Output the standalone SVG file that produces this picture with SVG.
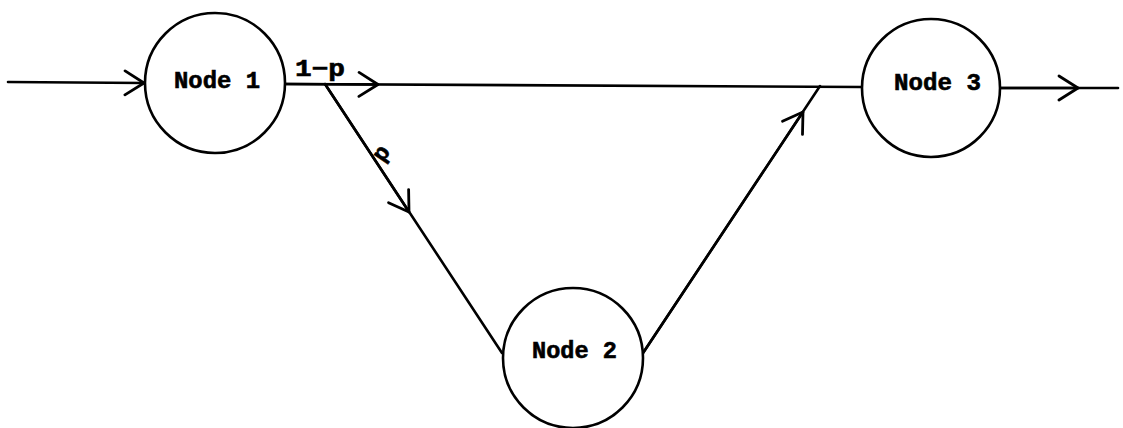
<svg xmlns="http://www.w3.org/2000/svg" width="1123" height="428" viewBox="0 0 1123 428">
  <style>
    .edge { fill: none; stroke: #000; stroke-width: 2.6; stroke-linecap: round; stroke-linejoin: round; }
    .node circle { fill: #fff; stroke: #000; stroke-width: 2.6; }
    .label { font-family: "Liberation Mono", "DejaVu Sans Mono", monospace; font-weight: bold; font-size: 23px; fill: #000; stroke: #000; stroke-width: 0.6; }
  </style>
  <defs>
    <marker id="chev" viewBox="0 0 22 30" refX="21" refY="15" markerWidth="22" markerHeight="30" markerUnits="userSpaceOnUse" orient="auto">
      <path d="M2,3 L21,15 L2,27" fill="none" stroke="#000" stroke-width="2.8" stroke-linecap="round" stroke-linejoin="round"/>
    </marker>
  </defs>

  <g id="connectors">
    <!-- input into node 1 -->
    <path class="edge" d="M8,82 L144,83" marker-end="url(#chev)" />
    <!-- main branch 1-p from node 1 to node 3 -->
    <path class="edge" d="M285,84 L862,87" />
    <path class="edge" d="M285,84 L378,84.5" marker-end="url(#chev)" />
    <!-- branch p down to node 2 -->
    <path class="edge" d="M325,84 L502,353" />
    <path class="edge" d="M325,84 L409,212" marker-end="url(#chev)" />
    <!-- node 2 back up to main line -->
    <path class="edge" d="M643,353 L820,86" />
    <path class="edge" d="M643,353 L803,112" marker-end="url(#chev)" />
    <!-- output from node 3 -->
    <path class="edge" d="M1000,88 L1118,88" />
    <path class="edge" d="M1000,88 L1078,88" marker-end="url(#chev)" />
    <!-- edge labels -->
    <text class="label" x="295" y="76" font-size="24" textLength="50" lengthAdjust="spacingAndGlyphs">1−p</text>
    <text class="label" x="0" y="0" font-size="22" transform="translate(383,163) rotate(-55)">p</text>
  </g>

  <g id="node1" class="node">
    <circle cx="215" cy="83" r="70"/>
    <text class="label" x="174" y="88" textLength="86" lengthAdjust="spacingAndGlyphs">Node 1</text>
  </g>
  <g id="node2" class="node">
    <circle cx="573" cy="358" r="70"/>
    <text class="label" x="532" y="358" textLength="85" lengthAdjust="spacingAndGlyphs">Node 2</text>
  </g>
  <g id="node3" class="node">
    <circle cx="931" cy="88" r="69"/>
    <text class="label" x="894" y="90" textLength="87" lengthAdjust="spacingAndGlyphs">Node 3</text>
  </g>
</svg>
